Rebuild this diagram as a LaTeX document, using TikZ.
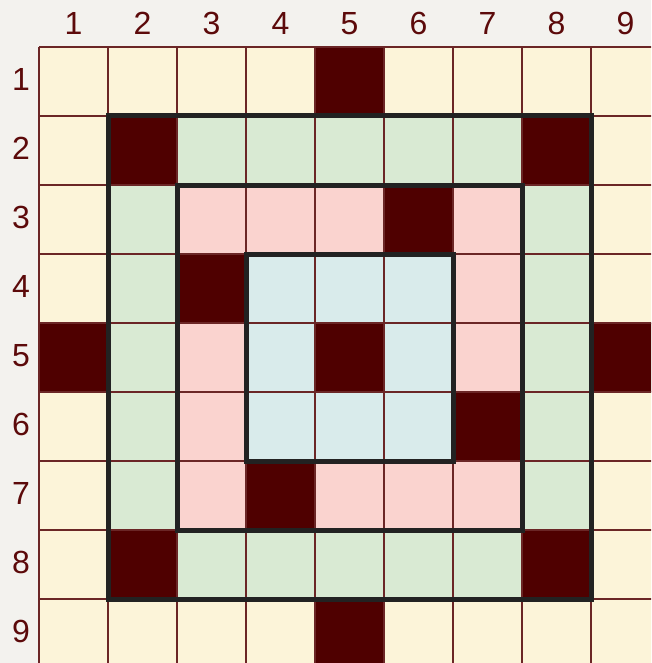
\documentclass[tikz,border=0pt]{standalone}
\usepackage{fontspec}
\setmainfont{Liberation Sans}
\definecolor{bgc}{HTML}{F3F2EE}
\definecolor{ring0}{HTML}{4F0000}
\definecolor{ring1}{HTML}{D9EBEB}
\definecolor{ring2}{HTML}{FAD3CF}
\definecolor{ring3}{HTML}{D9EAD3}
\definecolor{ring4}{HTML}{FCF4D9}
\definecolor{darkcell}{HTML}{4F0000}
\definecolor{gridc}{HTML}{6B2626}
\definecolor{borderc}{HTML}{222222}
\definecolor{labelc}{HTML}{5C0A0A}
\tikzset{
  lbl/.style={text=labelc, font=\fontsize{32}{34}\selectfont, anchor=base, inner sep=0pt},
  gridline/.style={draw=gridc, line width=1.2pt},
  thickborder/.style={draw=borderc, line width=5pt},
}
\begin{document}
\begin{tikzpicture}[x=1pt,y=-1pt]
\useasboundingbox (0,0) rectangle (651,663);
\fill[bgc] (0,0) rectangle (651,663);
\begin{scope}
\clip (0,0) rectangle (651,663);
\foreach \r in {1,...,9}{
  \foreach \c in {1,...,9}{
    \pgfmathtruncatemacro\ring{max(abs(\r-5),abs(\c-5))}
    \fill[ring\ring] ({39+(\c-1)*69},{47+(\r-1)*69}) rectangle ++(69,69);
  }
}
\foreach \r/\c in {1/5,2/2,2/8,3/6,4/3,5/1,5/5,5/9,6/7,7/4,8/2,8/8,9/5}{
  \fill[darkcell] ({39+(\c-1)*69},{47+(\r-1)*69}) rectangle ++(69,69);
}
\foreach \i in {0,...,9}{
  \draw[gridline] ({39+\i*69},47) -- ({39+\i*69},668);
  \draw[gridline] (39,{47+\i*69}) -- (660,{47+\i*69});
}
\draw[thickborder] (108,116) rectangle (591,599);
\draw[thickborder] (177,185) rectangle (522,530);
\draw[thickborder] (246,254) rectangle (453,461);
\end{scope}
\foreach \c in {1,...,9}{
  \node[lbl] (col\c) at ({39+(\c-0.5)*69},35) {\c};
}
\foreach \r in {1,...,9}{
  \node[lbl] (row\r) at (21,{47+(\r-0.5)*69+9}) {\r};
}
\end{tikzpicture}
\end{document}
